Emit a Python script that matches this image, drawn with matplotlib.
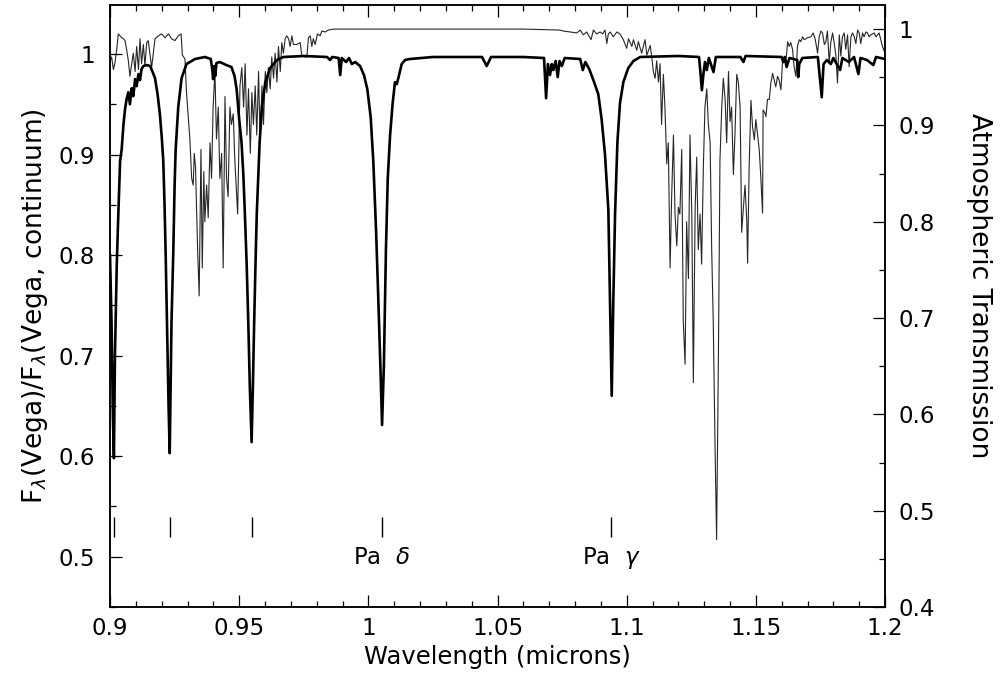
import matplotlib
matplotlib.use('Agg')
import matplotlib.pyplot as plt
from matplotlib.ticker import MultipleLocator, FuncFormatter

# Vega model spectrum, normalised to continuum (left axis)
vega_wave = [0.9000, 0.9006, 0.9011, 0.9015, 0.9019, 0.9026, 0.9032, 0.9039, 0.9045, 0.9052,
             0.9058, 0.9064, 0.9071, 0.9077, 0.9084, 0.9090, 0.9097, 0.9103, 0.9110, 0.9116,
             0.9122, 0.9129, 0.9142, 0.9155, 0.9165, 0.9174, 0.9184, 0.9193, 0.9200, 0.9206,
             0.9211, 0.9215, 0.9219, 0.9223, 0.9227, 0.9231, 0.9234, 0.9238, 0.9245, 0.9250,
             0.9254, 0.9264, 0.9277, 0.9296, 0.9329, 0.9367, 0.9390, 0.9396, 0.9399, 0.9403,
             0.9407, 0.9412, 0.9425, 0.9450, 0.9470, 0.9482, 0.9490, 0.9500, 0.9509, 0.9516,
             0.9522, 0.9529, 0.9535, 0.9541, 0.9548, 0.9553, 0.9558, 0.9563, 0.9568, 0.9574,
             0.9579, 0.9588, 0.9601, 0.9620, 0.9646, 0.9671, 0.9750, 0.9840, 0.9852, 0.9860,
             0.9885, 0.9891, 0.9897, 0.9914, 0.9925, 0.9936, 0.9949, 0.9968, 0.9983, 0.9996,
             1.0009, 1.0019, 1.0030, 1.0039, 1.0047, 1.0053, 1.0060, 1.0068, 1.0075, 1.0084,
             1.0094, 1.0103, 1.0110, 1.0116, 1.0129, 1.0142, 1.0161, 1.0250, 1.0350, 1.0440,
             1.0458, 1.0475, 1.0600, 1.0680, 1.0688, 1.0695, 1.0703, 1.0710, 1.0716, 1.0725,
             1.0733, 1.0740, 1.0749, 1.0760, 1.0820, 1.0830, 1.0840, 1.0855, 1.0871, 1.0890,
             1.0903, 1.0916, 1.0929, 1.0935, 1.0942, 1.0948, 1.0955, 1.0964, 1.0974, 1.0987,
             1.1006, 1.1026, 1.1052, 1.1200, 1.1280, 1.1285, 1.1291, 1.1297, 1.1303, 1.1310,
             1.1318, 1.1336, 1.1345, 1.1440, 1.1452, 1.1460, 1.1600, 1.1606, 1.1612, 1.1619,
             1.1630, 1.1660, 1.1664, 1.1668, 1.1680, 1.1740, 1.1755, 1.1762, 1.1775, 1.1790,
             1.1800, 1.1826, 1.1835, 1.1860, 1.1880, 1.1897, 1.1905, 1.1930, 1.1955, 1.1965,
             1.2000]
vega_flux = [0.800, 0.730, 0.640, 0.598, 0.700, 0.790, 0.840, 0.894, 0.905, 0.930,
             0.945, 0.955, 0.962, 0.950, 0.966, 0.958, 0.975, 0.968, 0.980, 0.974,
             0.985, 0.988, 0.989, 0.988, 0.982, 0.976, 0.960, 0.940, 0.918, 0.894,
             0.850, 0.805, 0.750, 0.699, 0.645, 0.603, 0.660, 0.734, 0.805, 0.870,
             0.905, 0.947, 0.976, 0.990, 0.995, 0.997, 0.995, 0.984, 0.975, 0.988,
             0.978, 0.991, 0.992, 0.989, 0.987, 0.978, 0.965, 0.935, 0.912, 0.880,
             0.841, 0.790, 0.735, 0.670, 0.614, 0.670, 0.734, 0.790, 0.841, 0.880,
             0.912, 0.947, 0.972, 0.986, 0.994, 0.997, 0.998, 0.997, 0.994, 0.997,
             0.996, 0.979, 0.996, 0.992, 0.996, 0.990, 0.992, 0.988, 0.979, 0.965,
             0.937, 0.894, 0.823, 0.752, 0.685, 0.631, 0.690, 0.805, 0.876, 0.919,
             0.951, 0.972, 0.970, 0.976, 0.990, 0.994, 0.995, 0.997, 0.997, 0.997,
             0.988, 0.997, 0.997, 0.996, 0.956, 0.990, 0.979, 0.990, 0.984, 0.993,
             0.977, 0.993, 0.988, 0.996, 0.995, 0.984, 0.992, 0.985, 0.974, 0.960,
             0.935, 0.900, 0.845, 0.760, 0.660, 0.752, 0.841, 0.912, 0.951, 0.972,
             0.986, 0.993, 0.997, 0.998, 0.997, 0.983, 0.964, 0.980, 0.992, 0.984,
             0.996, 0.982, 0.997, 0.997, 0.992, 0.998, 0.997, 0.992, 0.997, 0.987,
             0.996, 0.994, 0.977, 0.990, 0.996, 0.997, 0.957, 0.990, 0.994, 0.990,
             0.996, 0.984, 0.996, 0.992, 0.997, 0.980, 0.996, 0.994, 0.989, 0.997,
             0.995]

# atmospheric transmission (right axis)
atm_wave = [0.9000, 0.9006, 0.9013, 0.9019, 0.9026, 0.9032, 0.9039, 0.9045, 0.9052, 0.9058,
            0.9064, 0.9071, 0.9077, 0.9084, 0.9090, 0.9097, 0.9103, 0.9110, 0.9116, 0.9122,
            0.9129, 0.9135, 0.9142, 0.9148, 0.9161, 0.9174, 0.9187, 0.9200, 0.9213, 0.9226,
            0.9238, 0.9251, 0.9264, 0.9275, 0.9280, 0.9290, 0.9296, 0.9303, 0.9309, 0.9316,
            0.9322, 0.9326, 0.9331, 0.9339, 0.9345, 0.9352, 0.9357, 0.9363, 0.9367, 0.9374,
            0.9380, 0.9387, 0.9393, 0.9399, 0.9406, 0.9412, 0.9419, 0.9425, 0.9432, 0.9438,
            0.9445, 0.9451, 0.9457, 0.9464, 0.9470, 0.9477, 0.9483, 0.9494, 0.9503, 0.9510,
            0.9517, 0.9523, 0.9530, 0.9536, 0.9543, 0.9549, 0.9555, 0.9562, 0.9568, 0.9575,
            0.9581, 0.9588, 0.9594, 0.9601, 0.9607, 0.9613, 0.9620, 0.9626, 0.9633, 0.9639,
            0.9646, 0.9652, 0.9659, 0.9665, 0.9671, 0.9678, 0.9684, 0.9691, 0.9697, 0.9704,
            0.9710, 0.9723, 0.9736, 0.9742, 0.9755, 0.9762, 0.9768, 0.9775, 0.9781, 0.9787,
            0.9794, 0.9803, 0.9813, 0.9820, 0.9833, 0.9845, 0.9865, 1.0000, 1.0300, 1.0600,
            1.0740, 1.0755, 1.0781, 1.0807, 1.0820, 1.0832, 1.0845, 1.0862, 1.0871, 1.0884,
            1.0897, 1.0907, 1.0916, 1.0923, 1.0929, 1.0936, 1.0948, 1.0962, 1.0974, 1.0987,
            1.1000, 1.1007, 1.1020, 1.1026, 1.1039, 1.1045, 1.1058, 1.1071, 1.1078, 1.1091,
            1.1097, 1.1103, 1.1110, 1.1116, 1.1123, 1.1129, 1.1135, 1.1142, 1.1148, 1.1155,
            1.1161, 1.1168, 1.1174, 1.1181, 1.1187, 1.1194, 1.1200, 1.1206, 1.1213, 1.1219,
            1.1226, 1.1232, 1.1239, 1.1245, 1.1252, 1.1258, 1.1265, 1.1271, 1.1277, 1.1284,
            1.1290, 1.1297, 1.1303, 1.1310, 1.1316, 1.1323, 1.1329, 1.1335, 1.1342, 1.1348,
            1.1355, 1.1361, 1.1368, 1.1374, 1.1381, 1.1387, 1.1394, 1.1400, 1.1406, 1.1413,
            1.1419, 1.1426, 1.1432, 1.1439, 1.1445, 1.1452, 1.1458, 1.1465, 1.1468, 1.1474,
            1.1481, 1.1487, 1.1494, 1.1500, 1.1506, 1.1513, 1.1519, 1.1526, 1.1528, 1.1535,
            1.1539, 1.1545, 1.1552, 1.1558, 1.1565, 1.1571, 1.1577, 1.1584, 1.1590, 1.1597,
            1.1603, 1.1610, 1.1616, 1.1623, 1.1629, 1.1635, 1.1642, 1.1648, 1.1655, 1.1661,
            1.1668, 1.1674, 1.1681, 1.1687, 1.1700, 1.1713, 1.1722, 1.1730, 1.1739, 1.1745,
            1.1752, 1.1758, 1.1765, 1.1771, 1.1777, 1.1784, 1.1790, 1.1797, 1.1803, 1.1810,
            1.1816, 1.1823, 1.1829, 1.1835, 1.1842, 1.1848, 1.1855, 1.1861, 1.1868, 1.1874,
            1.1881, 1.1887, 1.1894, 1.1900, 1.1906, 1.1913, 1.1919, 1.1926, 1.1932, 1.1939,
            1.1945, 1.1958, 1.1965, 1.1977, 1.1990, 1.2000]
atm_trans = [0.967, 0.971, 0.958, 0.965, 0.979, 0.995, 0.993, 0.991, 0.990, 0.988,
             0.979, 0.967, 0.951, 0.964, 0.975, 0.956, 0.982, 0.958, 0.990, 0.964,
             0.984, 0.962, 0.986, 0.988, 0.960, 0.990, 0.993, 0.995, 0.991, 0.995,
             0.990, 0.988, 0.993, 0.995, 0.973, 0.969, 0.934, 0.908, 0.886, 0.845,
             0.838, 0.871, 0.856, 0.771, 0.723, 0.875, 0.752, 0.852, 0.800, 0.838,
             0.804, 0.882, 0.845, 0.919, 0.956, 0.886, 0.919, 0.845, 0.871, 0.752,
             0.930, 0.845, 0.826, 0.919, 0.901, 0.912, 0.864, 0.808, 0.941, 0.960,
             0.919, 0.964, 0.890, 0.938, 0.871, 0.934, 0.901, 0.941, 0.890, 0.956,
             0.882, 0.941, 0.901, 0.956, 0.934, 0.960, 0.938, 0.971, 0.949, 0.975,
             0.945, 0.982, 0.956, 0.986, 0.975, 0.990, 0.993, 0.990, 0.982, 0.993,
             0.984, 0.984, 0.986, 0.973, 0.971, 0.971, 0.991, 0.993, 0.982, 0.990,
             0.984, 0.995, 0.993, 0.998, 0.997, 0.999, 1.000, 1.000, 1.000, 1.000,
             0.999, 0.998, 0.997, 0.996, 0.999, 0.994, 0.997, 0.989, 0.999, 0.995,
             0.997, 0.995, 0.999, 0.985, 0.995, 0.997, 0.992, 0.997, 0.995, 0.989,
             0.980, 0.990, 0.982, 0.989, 0.978, 0.987, 0.975, 0.989, 0.973, 0.983,
             0.971, 0.956, 0.949, 0.967, 0.945, 0.964, 0.901, 0.953, 0.919, 0.860,
             0.882, 0.752, 0.826, 0.890, 0.808, 0.775, 0.815, 0.808, 0.875, 0.697,
             0.652, 0.800, 0.741, 0.890, 0.808, 0.633, 0.815, 0.867, 0.771, 0.808,
             0.756, 0.860, 0.919, 0.938, 0.901, 0.882, 0.771, 0.697, 0.567, 0.470,
             0.659, 0.864, 0.919, 0.949, 0.927, 0.882, 0.956, 0.904, 0.919, 0.849,
             0.890, 0.953, 0.945, 0.919, 0.789, 0.815, 0.838, 0.800, 0.757, 0.857,
             0.926, 0.899, 0.885, 0.906, 0.892, 0.875, 0.847, 0.809, 0.916, 0.913,
             0.909, 0.927, 0.927, 0.944, 0.954, 0.947, 0.940, 0.951, 0.947, 0.937,
             0.965, 0.968, 0.965, 0.987, 0.982, 0.986, 0.979, 0.961, 0.951, 0.982,
             0.989, 0.987, 0.992, 0.989, 0.991, 0.992, 0.996, 0.989, 0.975, 0.992,
             0.998, 0.996, 0.984, 0.987, 0.998, 0.965, 0.986, 0.996, 0.986, 0.972,
             0.944, 0.994, 0.972, 0.992, 0.996, 0.979, 0.994, 0.961, 0.992, 0.996,
             0.992, 0.985, 0.999, 0.996, 0.985, 0.996, 0.992, 0.997, 0.996, 0.992,
             0.994, 0.996, 0.992, 0.996, 0.982, 0.975]

# hydrogen Paschen lines marked at the bottom
line_wave = [0.9015, 0.9231, 0.9548, 1.0053, 1.0941]
line_names = ['', '', '', r'Pa  $\delta$', r'Pa  $\gamma$']

TICK_FS = 16.5
fmt = FuncFormatter(lambda v, pos: '%g' % round(v, 3))

fig = plt.figure(figsize=(10.04, 6.77), dpi=100)
ax = fig.add_axes([0.1096, 0.1034, 0.7719, 0.8892])
ax2 = ax.twinx()

ax2.plot(atm_wave, atm_trans, color='0.15', lw=0.8)
ax.plot(vega_wave, vega_flux, color='black', lw=1.9)
ax.set_zorder(ax2.get_zorder() + 1)
ax.patch.set_visible(False)

ax.vlines(line_wave, 0.52, 0.54, color='black', lw=1.0)
for w, name in zip(line_wave, line_names):
    if name:
        ax.text(w, 0.499, name, ha='center', va='center', fontsize=TICK_FS)

ax.set_xlim(0.9, 1.2)
ax.set_ylim(0.45, 1.0487)
ax2.set_ylim(0.4, 1.025)

ax.xaxis.set_major_locator(MultipleLocator(0.05))
ax.xaxis.set_minor_locator(MultipleLocator(0.01))
ax.yaxis.set_major_locator(MultipleLocator(0.1))
ax.yaxis.set_minor_locator(MultipleLocator(0.05))
ax2.yaxis.set_major_locator(MultipleLocator(0.1))
ax2.yaxis.set_minor_locator(MultipleLocator(0.05))
ax.xaxis.set_major_formatter(fmt)
ax.yaxis.set_major_formatter(fmt)
ax2.yaxis.set_major_formatter(fmt)

ax.tick_params(which='both', direction='in', top=True, right=False, width=0.9, labelsize=TICK_FS)
ax.tick_params(which='major', length=8.6)
ax.tick_params(which='minor', length=4.3)
ax.tick_params(axis='x', pad=7)
ax.tick_params(axis='y', pad=11)
ax2.tick_params(which='both', direction='in', width=0.9, labelsize=TICK_FS, pad=10)
ax2.tick_params(which='major', length=8.6)
ax2.tick_params(which='minor', length=4.3)
for a in (ax, ax2):
    for s in a.spines.values():
        s.set_linewidth(1.1)

ax.set_xlabel('Wavelength (microns)', fontsize=17.5, labelpad=4)
ax.set_ylabel(r'F$_\lambda$(Vega)/F$_\lambda$(Vega, continuum)', fontsize=19, labelpad=6)
fig.text(0.975, 0.578, 'Atmospheric Transmission', rotation=270, fontsize=19,
         ha='center', va='center')

fig.savefig('out.png', dpi=100)
